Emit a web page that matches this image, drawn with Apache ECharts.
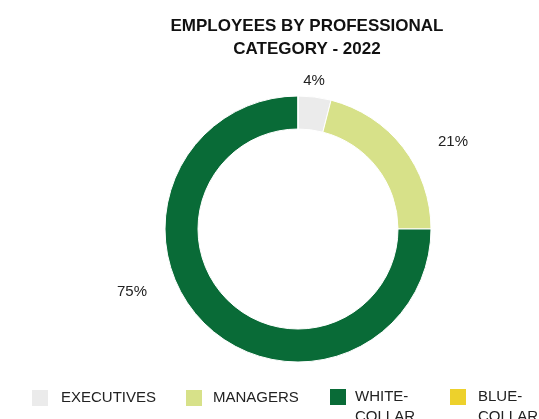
<!DOCTYPE html>
<html>
<head>
<meta charset="utf-8">
<script src="https://cdn.jsdelivr.net/npm/echarts@6/dist/echarts.min.js"></script>
<style>
  html, body { margin: 0; padding: 0; background: #fff; }
  #chart { width: 539px; height: 419px; }
</style>
</head>
<body>
<div id="chart"></div>
<script>
// Workforce split by professional category, 2022 (percent of employees)
const categories = ['EXECUTIVES', 'MANAGERS', 'WHITE-COLLAR', 'BLUE-COLLAR'];
const shares = [4, 21, 75, 0];

// Styling
const colors = ['#EBEBEB', '#D7E189', '#096B37', '#EDD12C'];
const legendLeft = [32, 186, 330, 450];
const legendTextPad = [8, 6, 4, 7];
const valueLabelAt = [[314, 81], [453, 142], [132, 292], [0, 0]];
const FONT = '"Liberation Sans", Arial, Helvetica, sans-serif';

const chart = echarts.init(document.getElementById('chart'), null, { renderer: 'canvas' });

// One legend per entry so each sits at its own spot; hyphenated names wrap
// after the hyphen, with a blank lead line so the first line stays level with the swatch.
const legends = categories.map((name, i) => {
  const twoLine = name.indexOf('-') > 0;
  return {
    data: [name],
    left: legendLeft[i],
    top: twoLine ? 367 : 388,
    padding: 0,
    itemWidth: 16,
    itemHeight: 16,
    icon: 'rect',
    itemStyle: { borderWidth: 0 },
    selectedMode: false,
    formatter: n => (n.indexOf('-') > 0 ? '\n' + n.replace('-', '-\n') : n),
    textStyle: {
      fontFamily: FONT,
      fontSize: 15,
      color: '#222',
      lineHeight: 20,
      padding: [0, 0, 0, legendTextPad[i]]
    }
  };
});

chart.setOption({
  animation: false,
  color: colors,
  title: {
    text: 'EMPLOYEES BY PROFESSIONAL\nCATEGORY - 2022',
    left: 307,
    top: 15,
    padding: 0,
    textAlign: 'center',
    textStyle: {
      fontFamily: FONT,
      fontSize: 17,
      fontWeight: 'bold',
      color: '#111',
      lineHeight: 23
    }
  },
  legend: legends,
  series: [{
    type: 'pie',
    center: [298, 229],
    radius: [100, 133],
    startAngle: 90,
    clockwise: true,
    avoidLabelOverlap: false,
    itemStyle: { borderColor: '#fff', borderWidth: 1 },
    label: {
      show: true,
      position: 'outside',
      fontFamily: FONT,
      fontSize: 15,
      color: '#222',
      formatter: p => (p.value > 0 ? p.value + '%' : '')
    },
    labelLine: { show: false },
    labelLayout: p => ({
      x: valueLabelAt[p.dataIndex][0],
      y: valueLabelAt[p.dataIndex][1],
      align: 'center',
      verticalAlign: 'middle'
    }),
    emphasis: { disabled: true },
    data: categories.map((name, i) => ({ name, value: shares[i] }))
  }]
});
</script>
</body>
</html>
